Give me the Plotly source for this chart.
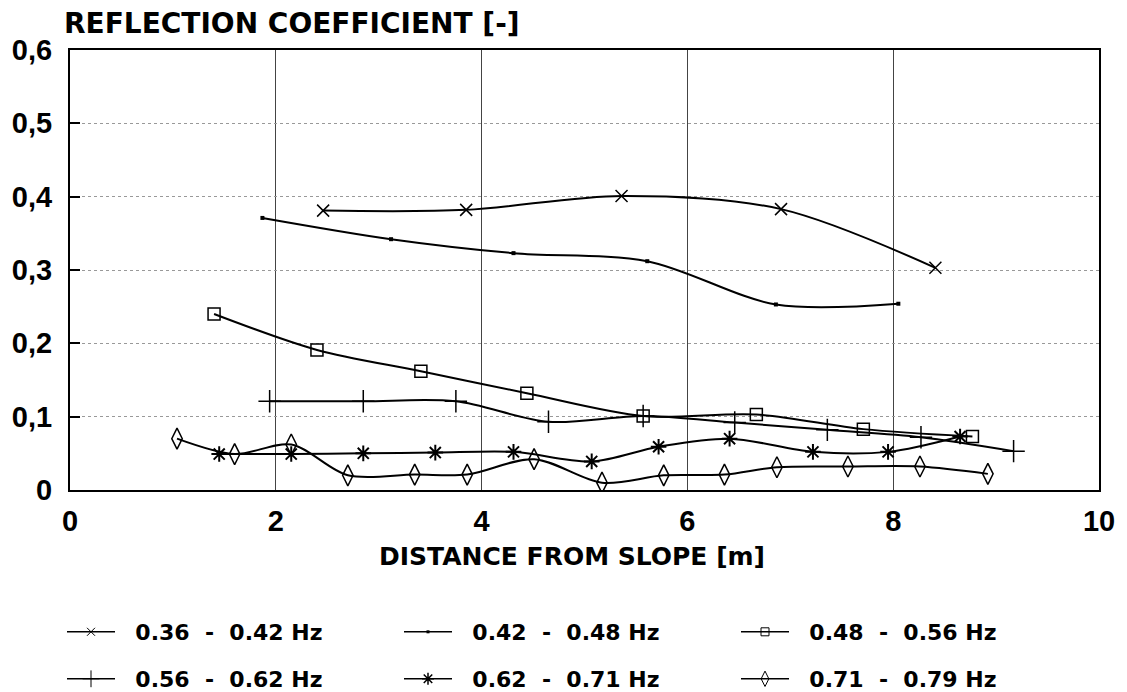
import plotly.graph_objects as go

# ---- data ----
s1_name = "0.36 - 0.42 Hz"
s1_x = [2.46, 3.85, 5.36, 6.91, 8.41]
s1_y = [0.381, 0.382, 0.401, 0.383, 0.303]

s2_name = "0.42 - 0.48 Hz"
s2_x = [1.87, 3.12, 4.31, 5.61, 6.86, 8.05]
s2_y = [0.371, 0.342, 0.323, 0.312, 0.253, 0.254]

s3_name = "0.48 - 0.56 Hz"
s3_x = [1.40, 2.40, 3.41, 4.44, 5.57, 6.67, 7.71, 8.77]
s3_y = [0.240, 0.191, 0.162, 0.132, 0.101, 0.103, 0.083, 0.073]

s4_name = "0.56 - 0.62 Hz"
s4_x = [1.94, 2.85, 3.75, 4.65, 5.57, 6.46, 7.36, 8.27, 9.17]
s4_y = [0.121, 0.121, 0.121, 0.093, 0.101, 0.092, 0.082, 0.072, 0.053]

s5_name = "0.62 - 0.71 Hz"
s5_x = [1.45, 2.15, 2.85, 3.55, 4.31, 5.07, 5.72, 6.41, 7.22, 7.95, 8.65]
s5_y = [0.049, 0.049, 0.050, 0.051, 0.052, 0.039, 0.059, 0.070, 0.052, 0.052, 0.073]

s6_name = "0.71 - 0.79 Hz"
s6_x = [1.04, 1.60, 2.15, 2.70, 3.35, 3.86, 4.51, 5.17, 5.77, 6.36, 6.87, 7.56, 8.26, 8.92]
s6_y = [0.070, 0.049, 0.062, 0.020, 0.021, 0.021, 0.042, 0.010, 0.020, 0.021, 0.031, 0.032, 0.032, 0.022]

x_ticks = [0, 2, 4, 6, 8, 10]
x_ticktext = ["0", "2", "4", "6", "8", "10"]
y_ticks = [0, 0.1, 0.2, 0.3, 0.4, 0.5, 0.6]
y_ticktext = ["0", "0,1", "0,2", "0,3", "0,4", "0,5", "0,6"]

y_title = "REFLECTION COEFFICIENT [-]"
x_title = "DISTANCE FROM SLOPE [m]"

W, H = 1127, 692
L, R, T, B = 67, 26, 50, 202

TITLE_FONT = "DejaVu Sans"
TICK_FONT = "Liberation Sans"
NB = "\u00a0"


def legend_label(name):
    # widen the spacing as in the original typewriter-like legend
    return NB * 2 + name.replace(" - ", NB * 2 + "-" + NB * 2).replace(" ", NB)


# (name, x, y, plot marker, legend marker, legend id)
series = [
    (s1_name, s1_x, s1_y,
     dict(symbol="x-thin-open", size=12, line=dict(width=1.5, color="black")),
     dict(symbol="x-thin-open", size=8, line=dict(width=1, color="black")), "legend"),
    (s2_name, s2_x, s2_y,
     dict(symbol="square", size=4, line=dict(width=0)),
     dict(symbol="square", size=3, line=dict(width=0)), "legend"),
    (s3_name, s3_x, s3_y,
     dict(symbol="square-open", size=12, line=dict(width=1.5, color="black")),
     dict(symbol="square-open", size=8, line=dict(width=1, color="black")), "legend"),
    (s4_name, s4_x, s4_y,
     dict(symbol="cross-thin-open", size=16, line=dict(width=1.5, color="black")),
     dict(symbol="cross-thin-open", size=12, line=dict(width=1, color="black")), "legend2"),
    (s5_name, s5_x, s5_y,
     dict(symbol="asterisk-open", size=13, line=dict(width=2, color="black")),
     dict(symbol="asterisk-open", size=10, line=dict(width=1.5, color="black")), "legend2"),
    (s6_name, s6_x, s6_y,
     dict(symbol="diamond-tall-open", size=15, line=dict(width=1.5, color="black")),
     dict(symbol="diamond-tall-open", size=11, line=dict(width=1, color="black")), "legend2"),
]

fig = go.Figure()
for name, xs, ys, mk, lmk, lg in series:
    fig.add_trace(go.Scatter(
        x=xs, y=ys, name=name, mode="lines+markers", showlegend=False,
        line=dict(color="black", width=2, shape="spline", smoothing=0.9),
        marker=dict(color="black", **mk),
    ))
    # legend key (no data points)
    fig.add_trace(go.Scatter(
        x=[None], y=[None], name=legend_label(name), mode="lines+markers",
        line=dict(color="black", width=1.5),
        marker=dict(color="black", **lmk),
        legend=lg, showlegend=True,
    ))

legend_common = dict(
    orientation="h", xref="container", yref="container",
    xanchor="left", yanchor="middle",
    font=dict(family=TITLE_FONT, size=22, color="black", weight="bold"),
    entrywidth=274, entrywidthmode="pixels", itemwidth=48,
    bgcolor="rgba(0,0,0,0)", borderwidth=0,
)

fig.update_layout(
    width=W, height=H,
    margin=dict(l=L, r=R, t=T, b=B, pad=0),
    paper_bgcolor="white", plot_bgcolor="white",
    showlegend=True,
    legend=dict(x=62 / W, y=1 - 632 / H, **legend_common),
    legend2=dict(x=62 / W, y=1 - 679 / H, **legend_common),
    title=dict(text=y_title, x=64 / W, xanchor="left", xref="container",
               y=1 - 23 / H, yanchor="middle", yref="container",
               font=dict(family=TITLE_FONT, size=28, color="black", weight="bold")),
    xaxis=dict(range=[0, 10], tickvals=x_ticks, ticktext=x_ticktext,
               showgrid=True, gridcolor="#444", gridwidth=1,
               showline=True, linecolor="black", linewidth=2, mirror=True,
               ticks="", ticklabelstandoff=4, zeroline=False,
               tickfont=dict(family=TICK_FONT, size=29, color="black", weight="bold")),
    yaxis=dict(range=[0, 0.6], tickvals=y_ticks, ticktext=y_ticktext,
               showgrid=True, gridcolor="#999", gridwidth=1, griddash="dot",
               showline=True, linecolor="black", linewidth=2, mirror=True,
               ticks="inside", ticklen=10, tickcolor="black", tickwidth=1.5,
               ticklabelstandoff=10, zeroline=False,
               tickfont=dict(family=TICK_FONT, size=29, color="black", weight="bold")),
    annotations=[dict(text=x_title, xref="paper", yref="paper",
                      x=(571 - L) / (W - L - R), y=-(556 - (H - B)) / (H - T - B),
                      xanchor="center", yanchor="middle", showarrow=False,
                      font=dict(family=TITLE_FONT, size=25, color="black", weight="bold"))],
)

fig.write_html("out.html")
